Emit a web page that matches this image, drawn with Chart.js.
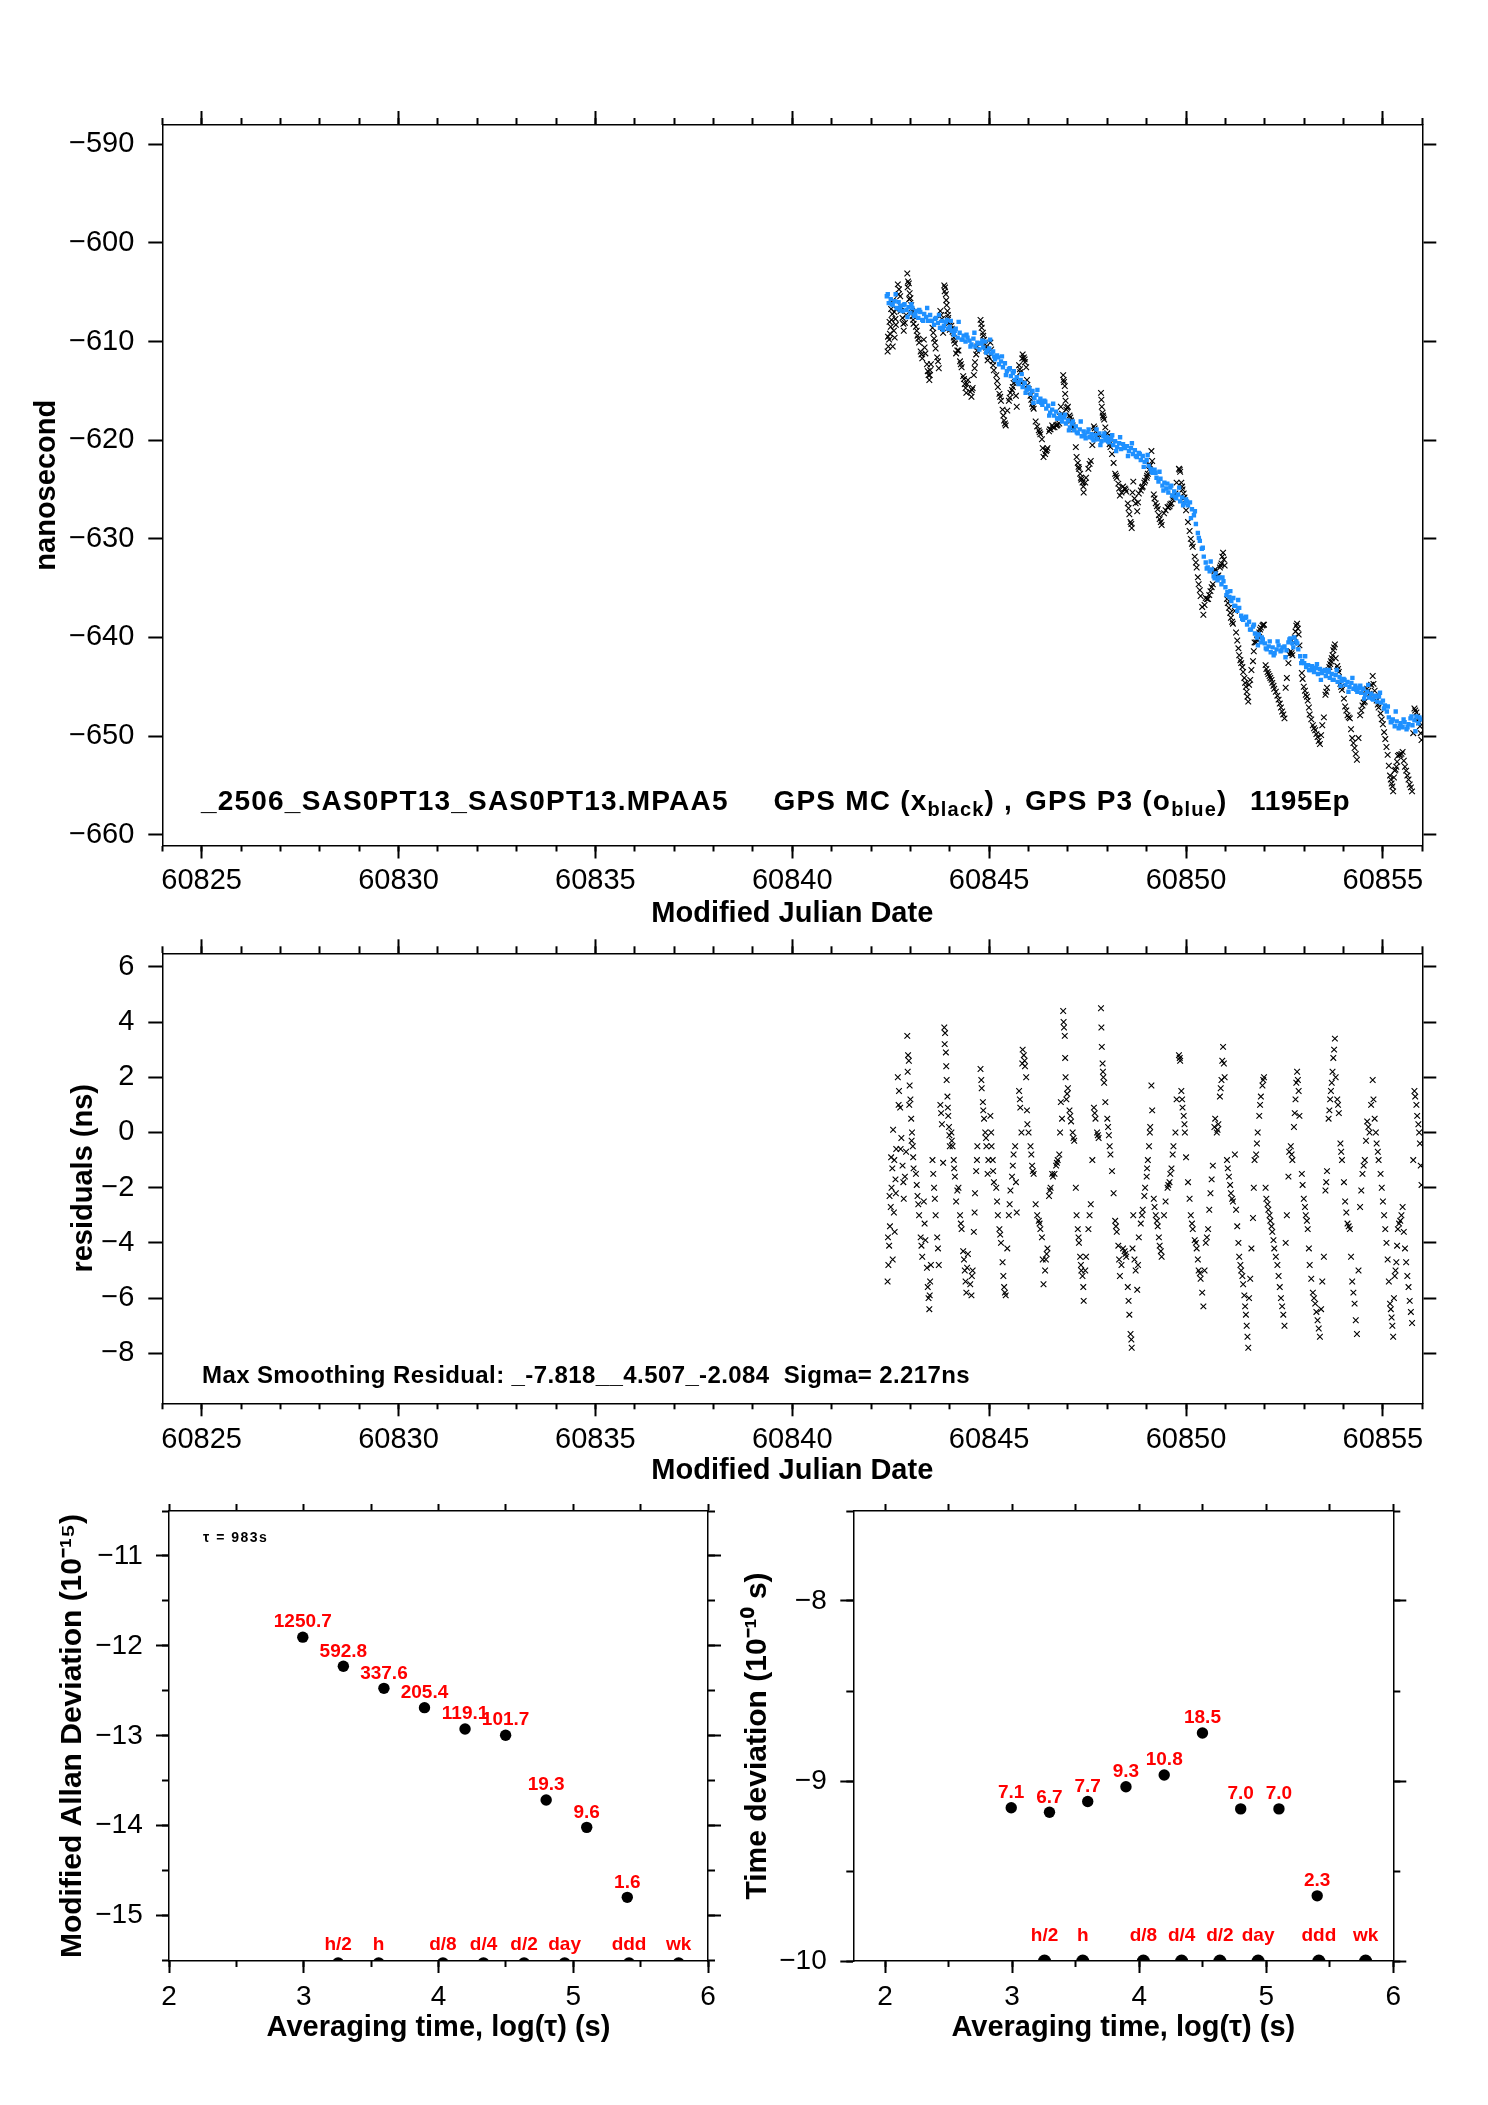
<!DOCTYPE html>
<html><head><meta charset="utf-8">
<script src="https://cdn.jsdelivr.net/npm/chart.js@4.4.1/dist/chart.umd.min.js"></script>
<style>
html,body{margin:0;padding:0;background:#fff;}
#wrap{position:relative;width:1488px;height:2105px;background:#fff;}
canvas{position:absolute;}
</style></head><body><div id="wrap">
<canvas id="c1" width="1488" height="935" style="left:0;top:0"></canvas>
<canvas id="c2" width="1488" height="565" style="left:0;top:935px"></canvas>
<canvas id="c3" width="740" height="605" style="left:0;top:1500px"></canvas>
<canvas id="c4" width="748" height="605" style="left:740px;top:1500px"></canvas>
</div>
<script>
// ---------------- DATA ----------------
// GPS P3 (blue) sampling grid start / step (MJD) and values (ns)
const p3Start = 60842.40, p3Step = 0.05;
const gpsP3 = [
-605.4,-606.1,-605.7,-606.3,-605.9,-606.6,-606.0,-606.4,-606.9,-606.2,-606.8,-606.5,
-607.1,-606.6,-607.4,-606.9,-607.6,-607.0,-607.8,-607.2,-607.5,-607.9,
-607.3,-607.9,-608.3,-607.6,-608.1,-608.6,-607.9,-608.4,-608.0,-608.7,
-608.5,-608.9,-609.3,-608.7,-609.6,-609.1,-609.8,-609.4,-610.0,-609.6,
-609.9,-610.3,-609.7,-610.5,-610.1,-610.8,-610.2,-610.6,-610.0,-610.9,
-610.7,-611.2,-611.0,-611.8,-611.4,-612.3,-612.0,-612.6,-612.2,-613.0,
-612.8,-613.5,-613.2,-613.9,-613.6,-614.3,-613.9,-614.6,-614.2,-614.9,
-614.6,-615.3,-615.0,-615.7,-615.4,-616.1,-615.8,-616.4,-616.0,-616.8,
-616.5,-617.2,-616.9,-617.5,-617.1,-617.8,-617.4,-618.1,-617.7,-618.3,
-618.0,-618.7,-618.3,-619.0,-618.6,-619.3,-618.9,-619.6,-619.1,-619.8,
-619.2,-619.7,-619.4,-620.0,-619.5,-619.9,-619.3,-620.1,-619.6,-620.0,
-619.7,-620.2,-619.9,-620.5,-620.1,-620.7,-620.3,-620.9,-620.4,-620.8,
-620.6,-621.1,-620.8,-621.4,-621.0,-621.7,-621.3,-622.0,-621.6,-622.2,
-622.0,-622.6,-622.9,-623.3,-623.0,-623.8,-624.2,-623.9,-624.6,-624.3,
-624.9,-625.3,-624.8,-625.6,-625.2,-625.9,-625.5,-626.2,-625.8,-626.4,
-626.0,-626.6,-626.3,-627.0,-627.6,-628.5,-629.4,-630.2,-631.0,-631.8,
-632.4,-632.9,-633.3,-633.1,-633.8,-633.5,-634.2,-633.9,-634.6,-634.3,
-634.9,-635.4,-635.9,-636.3,-636.0,-636.8,-637.3,-637.0,-637.8,-638.2,
-638.0,-638.7,-638.4,-639.2,-638.9,-639.6,-640.0,-639.7,-640.5,-640.2,
-640.6,-641.2,-640.9,-641.5,-641.0,-641.6,-641.2,-640.8,-641.4,-641.0,
-640.9,-641.3,-640.5,-640.1,-640.6,-640.0,-640.4,-641.2,-641.9,-642.4,
-642.6,-643.0,-642.8,-643.3,-642.9,-643.5,-643.1,-643.7,-643.2,-643.6,
-643.4,-643.9,-643.5,-644.1,-643.7,-644.3,-643.8,-644.5,-644.0,-644.4,
-644.2,-644.8,-644.5,-645.0,-644.6,-645.2,-644.9,-645.5,-645.1,-645.6,
-645.2,-645.8,-645.5,-646.1,-645.7,-646.3,-645.9,-646.5,-646.0,-646.6,
-646.4,-646.9,-647.5,-648.1,-648.6,-648.3,-649.0,-648.5,-649.2,-648.7,
-649.1,-648.6,-649.3,-648.8,-648.2,-648.9,-648.4,-648.0,-648.7,-648.3
];
// second interleaved GPS P3 sample set (start / step MJD, values ns)
const p3bStart = 60842.425, p3bStep = 0.1;
const gpsP3b = [
-605.2,-606.2,-605.2,-606.8,-606.3,-607.5,
-606.2,-607.2,-606.8,-607.9,-606.6,-607.9,-607.7,-607.3,-608.8,-607.8,
-607.9,-608.9,-608.0,-609.8,-609.3,-610.5,-609.1,-610.2,-609.9,-611.1,
-609.8,-611.5,-611.6,-611.5,-613.4,-612.7,-613.0,-614.1,-613.3,-615.2,
-614.8,-616.2,-614.9,-616.2,-616.1,-617.5,-616.3,-617.8,-617.7,-617.4,
-619.0,-618.1,-619.2,-618.1,-619.5,-618.9,-619.8,-618.9,-620.5,-619.3,
-620.1,-619.5,-621.1,-619.7,-620.7,-621.6,-620.3,-621.6,-621.4,-622.7,
-621.5,-623.2,-623.3,-623.2,-625.1,-624.4,-624.6,-625.7,-624.8,-626.6,
-626.2,-627.9,-627.2,-629.9,-630.9,-633.0,-632.3,-634.0,-634.0,-633.9,
-635.7,-635.3,-636.8,-636.2,-638.1,-637.9,-639.2,-638.7,-640.8,-640.0,
-641.1,-640.4,-641.8,-640.4,-641.3,-642.0,-640.2,-641.0,-640.6,-642.6,
-641.9,-643.3,-643.1,-642.7,-644.3,-643.3,-643.3,-644.3,-643.3,-644.9,
-644.3,-645.5,-644.1,-645.3,-644.9,-646.2,-644.8,-646.2,-646.0,-645.6,
-647.2,-647.0,-648.5,-647.5,-649.0,-648.3,-649.1,-648.0,-649.5,-648.1
];
// GPS MC (black x) epochs, values (ns) and smoothing residuals (ns)
const mcMJD = [
60842.42,60842.44,60842.46,60842.48,60842.50,60842.52,60842.54,60842.56,60842.58,60842.60,60842.62,60842.64,
60842.68,60842.71,60842.74,60842.77,60842.80,60842.83,60842.86,60842.89,
60842.92,60842.94,60842.96,60842.98,60843.00,60843.02,60843.04,60843.06,60843.08,
60843.14,60843.18,60843.22,60843.26,60843.30,60843.34,60843.38,60843.42,
60843.46,60843.48,60843.50,60843.52,
60843.56,60843.60,60843.64,60843.68,60843.72,60843.76,60843.80,60843.83,
60843.86,60843.88,60843.90,60843.92,60843.94,60843.96,60843.98,60844.00,
60844.04,60844.07,60844.10,60844.13,60844.16,
60844.22,60844.26,60844.30,60844.34,60844.38,60844.42,60844.46,
60844.55,60844.58,60844.61,60844.64,60844.67,60844.70,
60844.78,60844.81,60844.84,60844.87,60844.90,60844.93,60844.96,
60845.03,60845.06,60845.09,60845.12,
60845.18,60845.22,60845.26,60845.30,60845.34,60845.38,60845.42,
60845.50,60845.54,60845.58,60845.62,60845.66,60845.70,
60845.76,60845.79,60845.82,60845.85,60845.88,60845.91,60845.94,60845.97,60846.00,
60846.05,60846.09,60846.13,
60846.22,60846.26,60846.30,60846.34,60846.38,
60846.44,60846.48,60846.52,60846.56,60846.60,
60846.66,60846.70,60846.74,60846.78,60846.82,60846.85,
60846.88,60846.90,60846.92,60846.94,60846.96,
60847.00,60847.04,60847.08,60847.12,60847.16,
60847.22,60847.25,60847.28,60847.31,60847.34,60847.37,60847.40,
60847.46,60847.52,60847.58,
60847.66,60847.70,60847.74,60847.78,60847.84,60847.86,60847.88,60847.90,60847.92,
60848.00,60848.04,60848.08,
60848.16,60848.20,60848.24,60848.28,60848.32,
60848.40,60848.44,60848.48,60848.52,60848.56,60848.59,60848.62,60848.66,
60848.72,60848.76,60848.80,60848.85,60848.90,
60848.96,60849.00,60849.03,60849.06,60849.09,60849.12,
60849.18,60849.23,60849.28,60849.33,60849.38,
60849.48,60849.53,60849.58,60849.63,60849.68,60849.73,
60849.82,60849.85,60849.88,60849.91,60849.94,60849.97,60850.00,
60850.12,60850.17,60850.22,60850.27,60850.32,60850.37,
60850.44,60850.50,60850.56,60850.62,60850.68,
60850.74,60850.78,60850.82,60850.86,60850.90,60850.94,60850.98,
60851.04,60851.09,60851.14,60851.19,60851.24,
60851.30,60851.35,60851.40,60851.45,60851.50,60851.54,60851.58,60851.63,
60851.70,60851.74,60851.78,60851.82,60851.86,60851.90,60851.94,60851.98,
60852.04,60852.09,60852.14,60852.19,60852.24,
60852.32,60852.38,60852.44,60852.50,60852.56,
60852.62,60852.66,60852.70,60852.74,60852.78,60852.82,60852.86,
60852.94,60852.99,60853.04,60853.09,60853.14,
60853.22,60853.28,60853.34,60853.40,60853.46,
60853.54,60853.58,60853.62,60853.66,60853.70,60853.74,60853.78,
60853.84,60853.88,60853.92,60853.96,
60854.04,60854.10,60854.16,60854.22,60854.28,60854.34,
60854.42,60854.48,60854.54,60854.60,60854.66,
60854.74,60854.79,60854.84,60854.89,60854.94,
60855.00,60855.06,60855.12,
60855.18,60855.22,60855.26,60855.30,60855.34,60855.38,
60855.44,60855.50,60855.56,60855.62,60855.68,60855.74,
60855.80,60855.85,60855.90,60855.94,60855.98,
// additional epochs
60842.43,60842.47,60842.51,60842.55,60842.59,60842.63,60842.70,60842.75,60842.82,60842.93,60842.97,60843.03,60843.07,
60843.16,60843.20,60843.28,60843.36,60843.44,60843.49,
60843.58,60843.62,60843.70,60843.78,60843.87,60843.91,60843.95,60843.99,
60844.05,60844.11,60844.19,60844.28,60844.36,60844.40,60844.44,
60844.52,60844.56,60844.63,60844.69,60844.80,60844.85,60844.92,60844.98,
60845.05,60845.10,60845.20,60845.28,60845.36,60845.40,60845.46,
60845.52,60845.60,60845.68,60845.78,60845.84,60845.90,60845.96,
60846.07,60846.11,60846.18,60846.28,60846.36,60846.42,60846.46,
60846.54,60846.62,60846.72,60846.80,60846.89,60846.93,60846.98,
60847.06,60847.14,60847.20,60847.27,60847.33,60847.39,60847.44,
60847.55,60847.62,60847.68,60847.76,60847.85,60847.89,60847.95,
60848.02,60848.06,60848.12,60848.22,60848.30,60848.36,60848.46,
60848.54,60848.61,60848.64,60848.69,60848.78,60848.88,60848.94,
60849.01,60849.08,60849.14,60849.20,60849.26,60849.31,60849.36,60849.44,
60849.55,60849.60,60849.66,60849.76,60849.84,60849.90,60849.96,
60850.05,60850.09,60850.15,60850.25,60850.30,60850.35,60850.41,60850.47,60850.53,60850.59,60850.65,
60850.72,60850.80,60850.88,60850.92,60850.96,
60851.06,60851.12,60851.17,60851.27,60851.33,60851.38,60851.43,60851.48,
60851.52,60851.56,60851.60,60851.66,60851.72,60851.80,60851.88,60851.96,
60852.02,60852.07,60852.12,60852.17,60852.22,60852.28,60852.35,60852.41,60852.47,60852.53,
60852.60,60852.68,60852.76,60852.80,60852.84,60852.88,
60852.96,60853.02,60853.07,60853.12,60853.18,60853.25,60853.31,60853.37,60853.43,60853.50,
60853.56,60853.64,60853.68,60853.72,60853.76,60853.80,60853.86,60853.94,
60854.01,60854.07,60854.13,60854.19,60854.25,60854.31,60854.38,60854.45,
60854.51,60854.57,60854.63,60854.70,60854.76,60854.82,60854.87,60854.97,
60855.03,60855.09,60855.15,60855.20,60855.24,60855.28,60855.32,60855.36,60855.41,60855.47,
60855.53,60855.59,60855.65,60855.71,60855.77,60855.82,60855.87,60855.92,60855.96
];
const gpsMC = [
-611.0,-610.5,-609.8,-609.2,-608.5,-607.8,-607.2,-605.8,-608.9,-609.6,-607.7,-606.7,
-604.2,-604.7,-605.4,-606.5,-607.6,-608.9,-608.1,-607.3,
-603.1,-603.9,-604.1,-605.1,-605.6,-606.3,-606.9,-607.4,-608.2,
-608.5,-609.4,-610.1,-611.0,-611.7,-609.8,-611.2,-612.3,
-613.4,-613.9,-612.9,-612.3,
-608.6,-609.7,-610.7,-611.6,-612.7,-606.9,-607.7,-609.1,
-604.3,-604.5,-605.2,-606.3,-606.9,-607.6,-608.1,-608.8,
-608.4,-609.0,-609.6,-610.2,-611.2,
-610.9,-612.0,-612.6,-613.5,-614.3,-615.2,-613.9,
-615.6,-614.7,-613.4,-612.1,-611.3,-610.5,
-607.8,-608.6,-609.1,-609.8,-610.3,-610.9,-611.9,
-610.1,-611.3,-612.0,-612.9,
-613.4,-614.6,-615.3,-616.0,-616.9,-618.0,-618.5,
-616.0,-615.2,-614.9,-614.2,-614.1,-616.6,
-612.4,-613.1,-614.2,-611.3,-611.6,-612.1,-612.6,-614.4,-614.8,
-615.5,-616.3,-616.8,
-618.6,-619.0,-619.4,-619.9,-621.7,
-621.1,-620.8,-619.1,-618.9,-618.5,
-618.7,-618.5,-618.4,-618.3,-616.6,-617.3,
-613.4,-614.1,-614.5,-616.0,-616.9,
-616.6,-617.5,-618.0,-618.5,-618.9,
-621.7,-622.3,-622.9,-623.4,-624.0,-624.3,-625.3,
-623.8,-622.9,-622.1,
-618.6,-619.1,-619.6,-619.8,-615.2,-616.6,-617.2,-617.7,-617.9,
-619.3,-620.0,-620.7,
-622.3,-623.4,-623.8,-624.4,-625.6,
-624.7,-624.9,-625.2,-626.4,-627.5,-628.3,-628.9,-624.2,
-626.4,-627.2,-625.4,-625.1,-624.7,
-624.1,-623.8,-623.4,-623.0,-622.5,-621.1,
-625.5,-626.4,-627.0,-628.0,-628.6,
-627.1,-626.8,-626.7,-626.4,-625.7,-625.4,
-622.9,-623.2,-624.3,-625.0,-625.4,-626.1,-627.1,
-630.0,-630.8,-631.8,-632.9,-634.6,-635.8,
-637.7,-636.0,-636.1,-635.3,-634.6,
-633.1,-633.8,-633.7,-632.9,-632.5,-631.4,-632.7,
-636.1,-637.0,-638.0,-638.6,-637.3,
-640.3,-641.8,-642.6,-643.5,-644.6,-645.5,-646.5,-644.3,
-642.4,-640.5,-640.5,-639.9,-639.5,-639.0,-638.8,-638.7,
-643.2,-643.7,-644.1,-644.6,-645.2,
-645.9,-646.7,-647.5,-648.2,-644.1,
-641.7,-641.4,-641.8,-640.5,-639.4,-638.6,-639.7,
-643.6,-645.0,-645.8,-646.4,-647.8,
-648.9,-649.4,-650.1,-650.8,-648.9,
-645.8,-645.1,-643.3,-642.7,-642.1,-641.3,-640.7,
-642.9,-643.5,-644.7,-645.3,
-647.0,-647.9,-648.2,-650.2,-651.2,-652.4,
-647.9,-646.9,-646.5,-645.2,-645.7,
-643.9,-645.4,-646.4,-647.1,-647.7,
-648.8,-650.3,-651.9,
-654.0,-654.8,-655.6,-653.5,-653.1,-652.0,
-651.9,-651.6,-653.1,-654.0,-654.9,-655.6,
-647.2,-647.6,-648.3,-649.0,-650.4,
// additional values
-609.5,-608.0,-606.7,-610.5,-607.0,-608.3,-605.2,-606.9,-608.2,-604.5,-605.7,-607.1,-607.8,
-608.9,-609.7,-611.3,-610.6,-613.0,-613.4,
-609.1,-610.1,-612.0,-607.3,-604.9,-605.8,-607.3,-608.4,
-608.7,-609.9,-610.9,-612.3,-613.8,-614.7,-614.3,
-615.1,-614.9,-612.7,-610.9,-608.2,-609.4,-610.6,-611.5,
-610.8,-612.4,-614.0,-615.6,-617.5,-618.3,-617.0,
-615.7,-614.6,-615.5,-612.8,-611.7,-611.8,-613.9,
-615.9,-616.6,-618.1,-619.2,-620.8,-621.4,-621.0,
-618.9,-618.7,-618.5,-617.6,-613.9,-615.3,-616.7,
-617.7,-618.7,-620.7,-622.7,-623.8,-624.7,-624.3,
-622.4,-620.5,-618.8,-619.7,-615.9,-617.5,-618.7,
-619.6,-620.4,-621.4,-623.6,-624.9,-625.3,-625.0,
-626.9,-628.5,-625.3,-625.9,-626.3,-624.8,-624.3,
-623.6,-622.6,-622.1,-625.9,-626.7,-627.6,-628.3,-627.4,
-626.8,-626.5,-626.0,-624.3,-623.0,-624.7,-625.8,
-628.3,-629.2,-630.5,-632.4,-633.9,-635.2,-636.9,-636.7,-636.1,-635.7,-634.9,
-633.3,-633.8,-632.7,-631.8,-632.1,
-636.5,-637.5,-638.4,-639.5,-641.1,-642.3,-643.0,-644.1,
-645.0,-646.0,-644.8,-643.3,-641.4,-640.2,-639.2,-638.7,
-642.8,-643.5,-643.9,-644.3,-644.9,-645.5,-646.3,-647.1,-647.8,-645.1,
-642.6,-641.6,-640.0,-638.8,-639.1,-640.8,
-644.2,-645.4,-646.0,-647.1,-648.3,-649.2,-649.8,-650.5,-649.9,-648.1,
-645.5,-643.0,-642.4,-641.8,-641.0,-642.1,-643.2,-645.0,
-646.2,-647.4,-648.1,-649.3,-650.7,-651.8,-650.2,-647.4,
-646.6,-645.8,-645.4,-644.8,-644.7,-646.0,-646.8,-648.3,
-649.6,-651.1,-653.0,-654.4,-655.1,-654.2,-653.4,-652.6,-651.9,-651.8,
-652.5,-653.5,-654.4,-655.2,-649.7,-647.4,-648.0,-648.6,-649.7
];
const resid = [
-5.4,-4.8,-4.1,-3.4,-2.7,-2.0,-1.3,0.1,-2.9,-3.6,-1.7,-0.6,
2.0,1.5,0.9,-0.2,-1.2,-2.4,-1.6,-0.7,
3.5,2.8,2.6,1.7,1.2,0.5,0.0,-0.5,-1.3,
-1.5,-2.3,-3.0,-3.8,-4.5,-2.5,-3.9,-4.9,
-6.0,-6.4,-5.4,-4.8,
-1.0,-2.0,-3.0,-3.8,-4.8,1.0,0.3,-1.1,
3.8,3.6,2.9,1.9,1.3,0.6,0.2,-0.5,
0.0,-0.5,-1.0,-1.6,-2.5,
-2.0,-3.0,-3.5,-4.3,-5.0,-5.8,-4.4,
-5.9,-5.0,-3.6,-2.2,-1.4,-0.5,
2.3,1.6,1.1,0.5,0.0,-0.5,-1.5,
0.6,-0.5,-1.0,-1.8,
-2.0,-3.0,-3.5,-4.0,-4.7,-5.6,-5.9,
-3.0,-2.1,-1.6,-0.8,-0.5,-2.9,
1.5,0.9,0.0,3.0,2.8,2.4,2.0,0.3,0.0,
-0.5,-1.2,-1.5,
-3.0,-3.2,-3.5,-3.8,-5.5,
-4.6,-4.2,-2.3,-2.0,-1.5,
-1.5,-1.2,-1.0,-0.8,1.1,0.5,
4.4,3.8,3.5,2.0,1.2,
1.6,0.8,0.4,0.0,-0.3,
-3.0,-3.5,-4.0,-4.5,-5.0,-5.2,-6.1,
-4.5,-3.5,-2.6,
0.9,0.5,0.0,-0.2,4.5,3.1,2.5,2.0,1.8,
0.5,-0.1,-0.8,
-2.2,-3.2,-3.6,-4.1,-5.2,
-4.2,-4.3,-4.5,-5.6,-6.6,-7.3,-7.8,-3.0,
-5.0,-5.7,-3.8,-3.3,-2.8,
-2.0,-1.6,-1.0,-0.5,0.2,1.7,
-2.4,-3.0,-3.4,-4.1,-4.5,
-2.5,-2.0,-1.8,-1.3,-0.5,0.0,
2.8,2.6,1.5,0.9,0.6,0.0,-0.9,
-3.0,-3.5,-3.9,-4.2,-5.0,-5.3,
-6.3,-4.0,-3.5,-2.2,-1.2,
0.5,0.0,0.3,1.3,1.9,3.1,2.0,
-1.0,-1.6,-2.2,-2.5,-0.8,
-3.4,-4.5,-5.0,-5.5,-6.3,-7.0,-7.8,-5.3,
-3.1,-1.0,-0.8,0.0,0.6,1.3,1.7,2.0,
-2.4,-2.8,-3.2,-3.6,-4.2,
-4.8,-5.6,-6.3,-7.0,-3.0,
-0.7,-0.5,-1.0,0.2,1.2,2.2,1.5,
-1.5,-2.4,-3.0,-3.5,-4.8,
-5.8,-6.2,-6.8,-7.4,-5.4,
-2.1,-1.4,0.5,1.2,1.8,2.7,3.4,
1.2,0.7,-0.4,-1.0,
-2.5,-3.3,-3.5,-5.4,-6.2,-7.3,
-2.7,-1.5,-1.0,0.4,0.0,
1.9,0.5,-0.4,-1.0,-1.5,
-2.5,-3.5,-4.6,
-6.2,-6.7,-7.4,-5.2,-4.7,-3.5,
-3.2,-2.7,-4.2,-5.2,-6.1,-6.9,
1.5,1.0,0.3,-0.4,-1.9,
// additional residuals
-3.8,-2.3,-0.9,-4.6,-1.0,-2.2,1.0,-0.6,-1.8,2.2,1.0,-0.3,-0.9,
-1.9,-2.6,-4.1,-3.3,-5.6,-5.9,
-1.5,-2.4,-4.2,0.7,3.2,2.4,0.9,-0.1,
-0.3,-1.3,-2.1,-3.3,-4.6,-5.4,-4.9,
-5.5,-5.2,-2.9,-1.0,1.9,0.8,-0.2,-1.0,
0.0,-1.4,-2.5,-3.7,-5.2,-5.8,-4.2,
-2.6,-1.2,-1.8,1.2,2.5,2.6,0.8,
-0.8,-1.4,-2.6,-3.3,-4.6,-5.0,-4.4,
-2.1,-1.6,-1.1,0.0,4.0,2.7,1.4,
0.6,-0.2,-2.0,-3.8,-4.8,-5.6,-5.0,
-3.0,-1.0,0.7,-0.1,3.8,2.2,1.1,
0.2,-0.5,-1.4,-3.4,-4.6,-4.8,-4.4,
-6.1,-7.5,-4.2,-4.6,-4.8,-3.0,-2.3,
-1.3,0.0,0.8,-2.7,-3.2,-3.8,-4.3,-3.0,
-1.9,-1.5,-0.8,1.2,2.7,1.2,0.3,
-1.8,-2.4,-3.3,-4.0,-4.6,-5.1,-5.8,-5.0,-3.8,-2.8,-1.7,
0.2,0.1,1.6,2.6,2.5,
-1.3,-1.9,-2.4,-2.8,-4.0,-4.8,-5.2,-5.9,
-6.6,-7.4,-6.0,-4.2,-2.0,-0.4,1.0,1.9,
-2.0,-2.6,-3.0,-3.4,-3.9,-4.5,-5.2,-6.0,-6.6,-4.0,
-1.6,-0.8,0.7,1.8,1.9,0.6,
-1.9,-2.7,-3.2,-4.2,-5.3,-6.0,-6.5,-7.1,-6.4,-4.5,
-1.8,0.8,1.5,2.2,3.0,2.0,1.0,-0.7,
-1.8,-2.9,-3.4,-4.5,-5.8,-6.8,-5.0,-2.1,
-1.2,-0.3,0.2,1.0,1.2,0.0,-0.7,-2.0,
-3.0,-4.0,-5.4,-6.4,-7.0,-6.0,-5.0,-4.1,-3.3,-3.0,
-3.6,-4.7,-5.6,-6.5,-1.0,1.3,0.6,0.0,-1.2
];
// Stability analysis (tau0 = 983 s)
const logTau = [2.993, 3.294, 3.595, 3.896, 4.197, 4.498, 4.799, 5.100, 5.401];
const mdevLog = [-11.903, -12.227, -12.472, -12.687, -12.924, -12.993, -13.714, -14.018, -14.796];
const mdevLabels = ['1250.7','592.8','337.6','205.4','119.1','101.7','19.3','9.6','1.6'];
const tdevLog = [-9.149, -9.174, -9.114, -9.032, -8.967, -8.733, -9.155, -9.155, -9.638];
const tdevLabels = ['7.1','6.7','7.7','9.3','10.8','18.5','7.0','7.0','2.3'];
const markLog = [3.255, 3.556, 4.033, 4.334, 4.635, 4.936, 5.414, 5.782];
const markLabels = ['h/2','h','d/8','d/4','d/2','day','ddd','wk'];

// ---------------- HELPERS ----------------
const FONT = '"Liberation Sans", Arial, Helvetica, sans-serif';
const fmt = v => (v < 0 ? '\u2212' + String(-v) : String(v));
function axis(id, o) {
  const horiz = id[0] === 'x';
  return {
    type: 'linear', position: o.pos, min: o.min, max: o.max, weight: o.weight || 0,
    grid: { display: true, drawOnChartArea: false, drawTicks: true, tickLength: o.tl, tickWidth: 2, tickColor: '#000' },
    border: { display: o.border !== false, color: '#000', width: 1.5 },
    ticks: { display: !!o.fs, stepSize: o.step, includeBounds: false, autoSkip: false, maxRotation: 0, minRotation: 0,
             padding: o.pad || 0, color: '#000', font: { family: FONT, size: o.fs || 10 }, callback: fmt },
    title: o.title ? { display: true, text: o.title, color: '#000', font: { family: FONT, size: o.tfs, weight: 'bold' }, padding: o.tpad } : { display: false },
    afterFit: s => {
      if (horiz) s.height = o.size; else s.width = o.size;
      s.paddingTop = 0; s.paddingBottom = 0; s.paddingLeft = 0; s.paddingRight = 0;
    }
  };
}
function scalesFor(X, Y) {
  const s = {};
  s.x = axis('x', Object.assign({ pos: 'bottom' }, X.common, X.bottom));
  s.xMinB = axis('xMinB', Object.assign({ pos: 'bottom', weight: -1, border: false, size: 0 }, X.common, X.bottomMinor));
  s.xTop = axis('xTop', Object.assign({ pos: 'top' }, X.common, X.top));
  if (X.topMinor) s.xTopMin = axis('xTopMin', Object.assign({ pos: 'top', weight: -1, border: false, size: 0 }, X.common, X.topMinor));
  s.y = axis('y', Object.assign({ pos: 'left' }, Y.common, Y.left));
  if (Y.leftMinor) s.yMinL = axis('yMinL', Object.assign({ pos: 'left', weight: -1, border: false, size: 0 }, Y.common, Y.leftMinor));
  s.yR = axis('yR', Object.assign({ pos: 'right' }, Y.common, Y.right));
  if (Y.rightMinor) s.yRMin = axis('yRMin', Object.assign({ pos: 'right', weight: -1, border: false, size: 0 }, Y.common, Y.rightMinor));
  return s;
}
const labelPlugin = {
  id: 'ptLabels',
  afterDatasetsDraw(chart) {
    const ctx = chart.ctx;
    chart.data.datasets.forEach((ds, i) => {
      if (!ds.ptLabels) return;
      const meta = chart.getDatasetMeta(i);
      ctx.save();
      ctx.font = 'bold 19px ' + FONT; ctx.fillStyle = '#ff0000';
      ctx.textAlign = 'center'; ctx.textBaseline = 'middle';
      meta.data.forEach((el, j) => ctx.fillText(ds.ptLabels[j], el.x, el.y - ds.labelOffset));
      ctx.restore();
    });
  }
};
function rich(ctx, x, y, parts, spacing) {
  ctx.textBaseline = 'alphabetic'; ctx.textAlign = 'left';
  for (const [t, size, dy] of parts) {
    ctx.font = 'bold ' + size + 'px ' + FONT;
    try { ctx.letterSpacing = spacing + 'px'; } catch (e) {}
    ctx.fillText(t, x, y + dy);
    x += ctx.measureText(t).width;
  }
}
function textPlugin(items) {
  return { id: 'ann', afterDraw(chart) {
    const ctx = chart.ctx; ctx.save(); ctx.fillStyle = '#000';
    for (const it of items) rich(ctx, it.x, it.y, it.parts, it.sp);
    ctx.restore();
  } };
}
const baseOpts = (scales) => ({
  responsive: false, animation: false, devicePixelRatio: 1, events: [],
  layout: { padding: 0 },
  plugins: { legend: { display: false }, tooltip: { enabled: false } },
  scales
});
const blueStyle = { pointStyle: 'rect', pointRadius: 3.1, backgroundColor: '#1e90ff', borderWidth: 0 };
const xStyle = { pointStyle: 'crossRot', pointRadius: 4, borderColor: '#000', borderWidth: 1.1, backgroundColor: '#000' };

// ---------------- CHART 1 : time series ----------------
const mjdX = { common: { min: 60824, max: 60856 },
  bottom: { step: 5, tl: 13, size: 89.5, fs: 29, pad: 5, title: 'Modified Julian Date', tfs: 29, tpad: { bottom: 3.6 } },
  bottomMinor: { step: 1, tl: 6 },
  top: { step: 5, tl: 14, size: 125 },
  topMinor: { step: 1, tl: 7 } };
new Chart(document.getElementById('c1'), {
  type: 'scatter',
  data: { datasets: [
    Object.assign({ label: 'GPS P3', data: gpsP3.map((v, i) => ({ x: p3Start + i * p3Step, y: v })) }, blueStyle),
    Object.assign({ label: 'GPS P3 b', data: gpsP3b.map((v, i) => ({ x: p3bStart + i * p3bStep, y: v })) }, blueStyle),
    Object.assign({ label: 'GPS MC', data: mcMJD.map((t, i) => ({ x: t, y: gpsMC[i] })) }, xStyle)
  ] },
  options: baseOpts(scalesFor(mjdX, {
    common: { min: -661.09, max: -588.04, step: 10 },
    left: { tl: 14, size: 162.3, fs: 29, pad: 14, title: 'nanosecond', tfs: 29, tpad: { top: 30 } },
    right: { tl: 14, size: 65.7 } })),
  plugins: [textPlugin([
    { x: 201, y: 810, sp: 1.2, parts: [['_2506_SAS0PT13_SAS0PT13.MPAA5', 28, 0]] },
    { x: 773.5, y: 810, sp: 1.2, parts: [['GPS MC (x', 28, 0], ['black', 20, 6], [') ,', 28, 0]] },
    { x: 1025, y: 810, sp: 1.2, parts: [['GPS P3 (o', 28, 0], ['blue', 20, 6], [')', 28, 0]] },
    { x: 1250, y: 810, sp: 0.6, parts: [['1195Ep', 28, 0]] }
  ])]
});

// ---------------- CHART 2 : residuals ----------------
const mjdX2 = { common: { min: 60824, max: 60856 },
  bottom: { step: 5, tl: 13, size: 96.7, fs: 29, pad: 5.8, title: 'Modified Julian Date', tfs: 29, tpad: { bottom: 11.6 } },
  bottomMinor: { step: 1, tl: 6 },
  top: { step: 5, tl: 14, size: 18.3 },
  topMinor: { step: 1, tl: 7 } };
new Chart(document.getElementById('c2'), {
  type: 'scatter',
  data: { datasets: [
    Object.assign({ label: 'residuals', data: mcMJD.map((t, i) => ({ x: t, y: resid[i] })) }, xStyle)
  ] },
  options: baseOpts(scalesFor(mjdX2, {
    common: { min: -9.81, max: 6.49, step: 2 },
    left: { tl: 14, size: 162.3, fs: 29, pad: 14, title: 'residuals (ns)', tfs: 29, tpad: { top: 66.6 } },
    right: { tl: 14, size: 65.7 } })),
  plugins: [textPlugin([
    { x: 202, y: 447.5, sp: 0.4, parts: [['Max Smoothing Residual: _-7.818__4.507_-2.084  Sigma= 2.217ns', 24, 0]] }
  ])]
});

// ---------------- CHART 3 : Modified Allan deviation ----------------
new Chart(document.getElementById('c3'), {
  type: 'scatter',
  data: { datasets: [
    { label: 'MDEV', data: logTau.map((x, i) => ({ x, y: mdevLog[i] })), pointStyle: 'circle', pointRadius: 5.7,
      backgroundColor: '#000', borderWidth: 0, ptLabels: mdevLabels, labelOffset: 15 },
    { label: 'marks', data: markLog.map(x => ({ x, y: -15.53 })), pointStyle: 'circle', pointRadius: 6,
      backgroundColor: '#000', borderWidth: 0, clip: 0, ptLabels: markLabels, labelOffset: 18.5 }
  ] },
  options: baseOpts(scalesFor({ common: { min: 2, max: 6 },
      bottom: { step: 1, tl: 12, size: 144, fs: 28, pad: 7.2, title: 'Averaging time, log(\u03c4) (s)', tfs: 29, tpad: { bottom: 59.6 } },
      bottomMinor: { step: 0.5, tl: 6 },
      top: { step: 0.5, tl: 7, size: 11 } },
    { common: { min: -15.504, max: -10.5 },
      left: { step: 1, tl: 13, size: 169, fs: 28, pad: 13.3, title: 'Modified Allan Deviation (10\u207b\u00b9\u2075)', tfs: 30, tpad: { top: 55 } },
      leftMinor: { step: 0.5, tl: 7 },
      right: { step: 1, tl: 13, size: 32 },
      rightMinor: { step: 0.5, tl: 7 } })),
  plugins: [labelPlugin, textPlugin([
    { x: 203, y: 42, sp: 1.5, parts: [['\u03c4 = 983s', 14, 0]] }
  ])]
});

// ---------------- CHART 4 : Time deviation ----------------
new Chart(document.getElementById('c4'), {
  type: 'scatter',
  data: { datasets: [
    { label: 'TDEV', data: logTau.map((x, i) => ({ x, y: tdevLog[i] })), pointStyle: 'circle', pointRadius: 5.7,
      backgroundColor: '#000', borderWidth: 0, ptLabels: tdevLabels, labelOffset: 15 },
    { label: 'marks', data: markLog.map(x => ({ x, y: -10 })), pointStyle: 'circle', pointRadius: 6.5,
      backgroundColor: '#000', borderWidth: 0, clip: 0, ptLabels: markLabels, labelOffset: 25.4 }
  ] },
  options: baseOpts(scalesFor({ common: { min: 1.75, max: 6 },
      bottom: { step: 1, tl: 12, size: 144, fs: 28, pad: 7.2, title: 'Averaging time, log(\u03c4) (s)', tfs: 29, tpad: { bottom: 59.6 } },
      bottomMinor: { step: 0.5, tl: 6 },
      top: { step: 0.5, tl: 7, size: 11 } },
    { common: { min: -10, max: -7.5 },
      left: { step: 1, tl: 13, size: 113.3, fs: 28, pad: 13.6, title: 'Time deviation (10\u207b\u00b9\u2070 s)', tfs: 30, tpad: { top: 0 } },
      leftMinor: { step: 0.5, tl: 7 },
      right: { step: 1, tl: 13, size: 94.7 },
      rightMinor: { step: 0.5, tl: 7 } })),
  plugins: [labelPlugin]
});
</script></body></html>
